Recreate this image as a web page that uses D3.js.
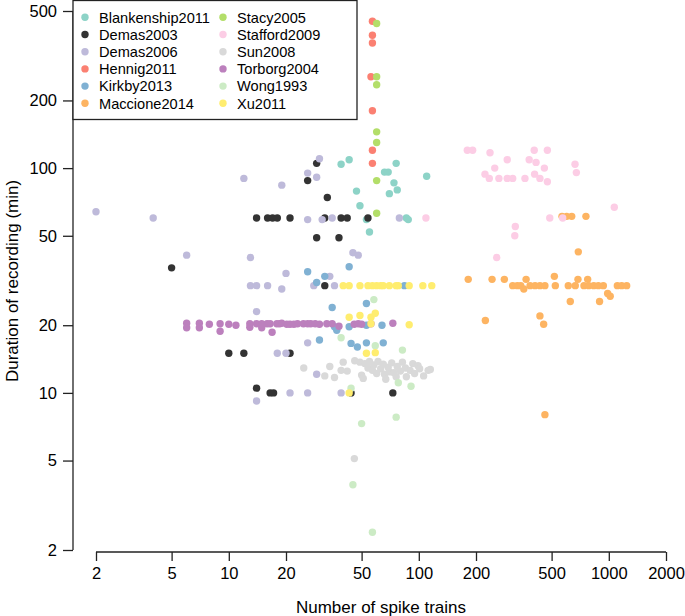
<!DOCTYPE html>
<html lang="en">
<head>
  <meta charset="UTF-8" />
  <title>Spike train recordings</title>
  <script src="https://d3js.org/d3.v7.min.js"></script>
  <style>
    body {
      margin: 0;
      padding: 0;
      background: #fff;
    }
    svg text {
      font-family: "Liberation Sans", Arial, Helvetica, sans-serif;
      fill: #000;
    }
  </style>
</head>
<body>
  <svg width="685" height="616"></svg>

  <script>
    // studies, in legend order
    const studies = [
      "Blankenship2011", "Demas2003", "Demas2006", "Hennig2011", "Kirkby2013", "Maccione2014",
      "Stacy2005", "Stafford2009", "Sun2008", "Torborg2004", "Wong1993", "Xu2011"
    ];
    const colours = [
      "#8dd3c7", "#333333", "#bebada", "#fb8072", "#80b1d3", "#fdb462",
      "#b3de69", "#fccde5", "#d9d9d9", "#bc80bd", "#ccebc5", "#ffed6f"
    ];

    // [number of spike trains, duration (min)]
    const blankenship2011 = [[39,104],[43,109],[76,105],[110,92],[66,96],[69,96],[74,86],[47,79],[70,77],[77,80],[49,68],[53,59],[86,60],[88,59],[55,52]];
    const demas2003 = [[29,105],[26,88],[33,74],[14,60],[16,60],[17,60],[18,60],[21,60],[32,60],[39,60],[42,60],[54,60],[29,49],[38,49],[5,36],[32,30],[44,10],[73,10],[10,15],[12,15],[21,15],[14,10.5],[16.5,10],[17.2,10]];
    const demas2006 = [[2,64],[4,60],[12,90],[19,84],[26,95],[30,110],[29,91],[26,59],[31,59],[35,60],[79,60],[45,42],[48,41],[6,41],[13,40],[20,34],[34,33],[28,30],[36,30],[13,30],[14,30],[16,30],[19,29],[14,23],[18,15],[20,15],[26,16.7],[29,12.1],[14,9.2],[21,10],[26,10],[39,10]];
    const hennig2011 = [[57,450],[57,390],[57,360],[56,255],[57,180],[57,120],[57,105]];
    const kirkby2013 = [[26,34.6],[29,31],[32,33],[43,36.4],[35,24],[84,30],[53,25],[36,19.7],[37,19],[43,19.7],[53,20],[64,20],[30,17.2],[44,16.6],[47.5,16],[53,16.7],[65,16.7]];
    const maccione2014 = [[182,32],[243,32],[282,32],[367,32],[517,33],[688,32],[774,32],[312,30],[330,30],[344,30],[357,29],[385,30],[409,30],[434,30],[461,30],[523,30],[612,30],[666,30],[740,30],[784,30],[833,30],[881,30],[936,30],[1109,30],[1169,30],[1242,30],[986,27.7],[1017,26.9],[627,25.5],[894,25.5],[224,21],[434,22],[454,20.2],[461,8],[567,61],[600,61],[638,61],[758,61],[691,42.4]];
    const stacy2005 = [[60,440],[60,255],[60,235],[60,145],[60,130],[60,88],[60,63]];
    const stafford2009 = [[180,120],[192,120],[237,117],[405,120],[475,120],[292,109],[381,109],[414,106],[251,100],[458,100],[664,104],[675,95.5],[223,94],[235,90],[264,90],[292,90],[312,90],[362,90],[407,94],[434,90],[475,87],[1069,67],[489,60],[572,60],[322,55],[320,50],[257,40],[109,60]];
    const sun2008 = [[24.8,12.9],[32,11.9],[34,13.1],[36,11.7],[39,12.6],[40,13.7],[42,12.5],[46,13.9],[49,13.7],[50,12],[51,11.6],[52,13.5],[54,12.9],[55,13.8],[57,12.6],[58,13.3],[60,12.2],[61,13.8],[63,12.8],[65,13.4],[66,12.1],[67,11.5],[69,13],[70,12.4],[72,13.6],[74,12.3],[76,11.8],[77,13.1],[80,12.5],[82,13.7],[85,12.9],[86,11.8],[90,12.6],[93,13.5],[95,12.2],[99,13.2],[101,12.8],[106,11.9],[112,12.6],[115,12.7],[45.8,5.1]];
    const torborg2004 = [[6,20.4],[6,19.5],[7,20.4],[7,19.5],[7.9,20.2],[9,20.3],[9,18.8],[10,20.2],[10.9,20],[12.9,20.3],[12.9,19.6],[14,20.3],[14.9,20.3],[14.9,19.5],[15.9,20.3],[16.5,20.3],[16.9,18.6],[17.9,20.3],[18.5,20.3],[19,20.4],[20.2,20.2],[21,20.2],[22,20.2],[23,20.3],[24.7,20.3],[26,20.3],[27,20.3],[28.5,20.3],[30,20.2],[32.8,20.3],[35,20.3],[38,19.8],[45.7,20.2],[48,20.3],[50,20.2],[56,20.3],[73,20.4]];
    const wong1993 = [[58,26],[39,17.6],[59,16.2],[82,15.5],[44,10.5],[78,11.1],[91,10.7],[76,7.8],[50,7.3],[45,3.9],[57,2.4]];
    const xu2011 = [[40,30],[43,30],[49,30],[54,30],[57,30],[60,30],[63,30],[65,30],[70,30],[76,30],[78,30],[89,30],[105,30],[117,30],[43,21.7],[49,22.1],[56,21.7],[59,22.6],[89,20.1],[56,20.3],[53,15],[59,15.1],[43,10]];

    const seriesData = [
      blankenship2011, demas2003, demas2006, hennig2011, kirkby2013, maccione2014,
      stacy2005, stafford2009, sun2008, torborg2004, wong1993, xu2011
    ];

    const xTicks = [2, 5, 10, 20, 50, 100, 200, 500, 1000, 2000];
    const yTicks = [2, 5, 10, 20, 50, 100, 200, 500];

    const svg = d3.select("svg");

    const x = d3.scaleLog().domain([2, 2000]).range([96, 666]);
    const y = d3.scaleLog().domain([2, 500]).range([550, 11]);

    // axes, R style (detached)
    const xAxis = svg.append("g")
      .attr("transform", "translate(0,552)")
      .call(d3.axisBottom(x).tickValues(xTicks).tickFormat(d3.format("d")).tickSize(9).tickPadding(6));
    const yAxis = svg.append("g")
      .attr("transform", "translate(73,0)")
      .call(d3.axisLeft(y).tickValues(yTicks).tickFormat(d3.format("d")).tickSize(10).tickPadding(6));

    [xAxis, yAxis].forEach(ax => {
      ax.select(".domain").attr("stroke", "#222").attr("stroke-width", 1.3);
      ax.selectAll(".tick line").attr("stroke", "#222").attr("stroke-width", 1.3);
      ax.selectAll(".tick text").attr("font-size", 16.5).attr("fill", "#000");
    });
    // no end caps on domain, like R
    xAxis.select(".domain").attr("d", "M96,0H666");
    yAxis.select(".domain").attr("d", "M0,11V550");

    svg.append("text")
      .attr("x", 381).attr("y", 613)
      .attr("text-anchor", "middle")
      .attr("font-size", 17)
      .text("Number of spike trains");

    svg.append("text")
      .attr("transform", "translate(18,281) rotate(-90)")
      .attr("text-anchor", "middle")
      .attr("font-size", 17)
      .text("Duration of recording (min)");

    // points
    const pts = svg.append("g");
    seriesData.forEach((data, i) => {
      pts.selectAll(null)
        .data(data)
        .enter().append("circle")
        .attr("cx", d => x(d[0]))
        .attr("cy", d => y(d[1]))
        .attr("r", 3.7)
        .attr("fill", colours[i]);
    });

    // legend
    const legend = svg.append("g");
    legend.append("rect")
      .attr("x", 73).attr("y", 0.5)
      .attr("width", 284).attr("height", 119)
      .attr("fill", "#fff")
      .attr("stroke", "#222")
      .attr("stroke-width", 1.3);

    studies.forEach((name, i) => {
      const col = Math.floor(i / 6);
      const row = i % 6;
      const lx = 85 + col * 138;
      const ly = 17.3 + row * 17.2;
      legend.append("circle")
        .attr("cx", lx).attr("cy", ly).attr("r", 3.7)
        .attr("fill", colours[i]);
      legend.append("text")
        .attr("x", lx + 14).attr("y", ly)
        .attr("dy", "0.36em")
        .attr("font-size", 14.6)
        .text(name);
    });
  </script>
</body>
</html>
